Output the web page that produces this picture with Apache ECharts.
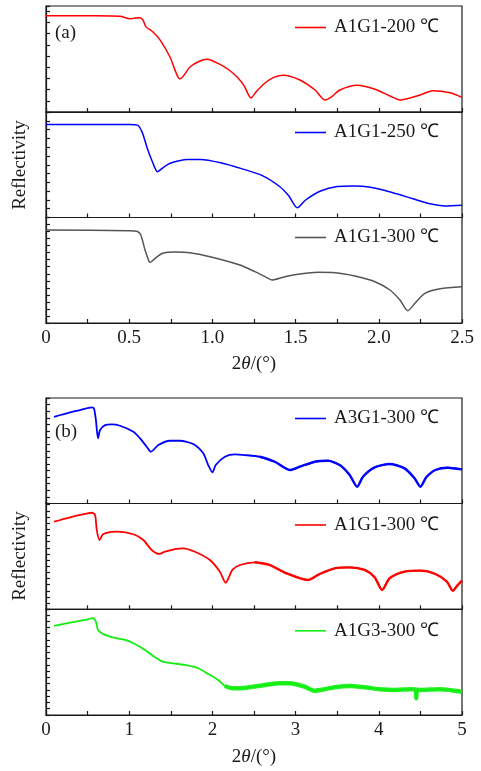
<!DOCTYPE html>
<html>
<head>
<meta charset="utf-8">
<script src="https://cdn.jsdelivr.net/npm/echarts@6/dist/echarts.min.js"></script>
<style>
html, body { margin: 0; padding: 0; background: #ffffff; }
#chart { width: 481px; height: 771px; }
</style>
</head>
<body>
<div id="chart"></div>
<script>
// X-ray reflectivity curves, 2θ in degrees vs. reflectivity (offset log units per strip)

// Panel (a): A1G1 annealed at 200 / 250 / 300 ℃, 2θ range 0–2.5°
const a1g1_200 = [
  [0, 8.6], [0.3, 8.6], [0.445, 8.55], [0.505, 8.32], [0.535, 8.38], [0.565, 8.42],
  [0.583, 8.21], [0.60, 7.62], [0.643, 7.14], [0.685, 6.43], [0.745, 4.91], [0.775, 3.75],
  [0.793, 3.13], [0.805, 2.95], [0.83, 3.30], [0.865, 4.02], [0.925, 4.55], [0.968, 4.71],
  [1.046, 4.25], [1.1, 3.75], [1.15, 3.1], [1.19, 2.35], [1.232, 1.25], [1.262, 1.79],
  [1.316, 2.59], [1.376, 3.13], [1.424, 3.28], [1.526, 2.86], [1.617, 1.96], [1.677, 1.07],
  [1.707, 1.25], [1.767, 1.96], [1.869, 2.38], [1.977, 2.03], [2.067, 1.43], [2.127, 1.07],
  [2.188, 1.25], [2.248, 1.52], [2.326, 1.90], [2.428, 1.72], [2.5, 1.31]
];
const a1g1_250 = [
  [0, 10.59], [0.5, 10.57], [0.55, 10.51], [0.58, 9.6], [0.61, 7.78], [0.64, 6.31],
  [0.67, 5.2], [0.7, 5.63], [0.75, 6.19], [0.85, 6.61], [0.93, 6.61], [1.05, 6.23],
  [1.17, 5.59], [1.3, 4.77], [1.4, 3.58], [1.46, 2.44], [1.51, 1.11], [1.56, 1.99],
  [1.65, 3.01], [1.75, 3.52], [1.85, 3.58], [1.95, 3.43], [2.08, 2.84], [2.2, 2.16],
  [2.3, 1.59], [2.4, 1.31], [2.5, 1.39]
];
const a1g1_300 = [
  [0, 13.23], [0.5, 13.13], [0.55, 13.02], [0.57, 12.52], [0.595, 10.38], [0.62, 8.72],
  [0.626, 8.63], [0.656, 9.2], [0.70, 9.91], [0.775, 10.1], [0.865, 10.0], [0.986, 9.43],
  [1.166, 8.25], [1.256, 7.3], [1.316, 6.59], [1.358, 6.12], [1.436, 6.59], [1.526, 6.97],
  [1.635, 7.21], [1.737, 7.16], [1.857, 6.69], [1.977, 5.87], [2.067, 4.69], [2.127, 3.27],
  [2.175, 1.75], [2.217, 2.8], [2.277, 4.22], [2.368, 4.88], [2.5, 5.16]
];

// Panel (b): samples annealed at 300 ℃, 2θ range 0–5°
const a3g1_300 = [
  [0.096, 13.15], [0.29, 13.82], [0.41, 14.17], [0.553, 14.58], [0.577, 14.42], [0.6, 12.65],
  [0.625, 9.88], [0.65, 11.14], [0.71, 11.89], [0.79, 12.0], [0.89, 11.79], [1.05, 10.88],
  [1.13, 9.88], [1.21, 8.61], [1.26, 7.85], [1.35, 8.86], [1.49, 9.52], [1.61, 9.52],
  [1.77, 9.02], [1.89, 7.61], [1.95, 5.83], [2.0, 4.73], [2.04, 5.83], [2.15, 7.09],
  [2.27, 7.45], [2.39, 7.35], [2.57, 7.09], [2.75, 6.33], [2.93, 5.08], [3.05, 5.58],
  [3.23, 6.33], [3.39, 6.48], [3.53, 5.83], [3.65, 4.32], [3.74, 2.55], [3.81, 4.06],
  [3.95, 5.48], [4.13, 5.98], [4.31, 5.33], [4.43, 3.82], [4.5, 2.55], [4.57, 3.97],
  [4.68, 5.08], [4.83, 5.42], [5.0, 5.18]
];
const a1g1_300b = [
  [0.096, 14.24], [0.29, 14.96], [0.47, 15.5], [0.553, 15.7], [0.59, 15.34], [0.61, 12.9],
  [0.643, 11.26], [0.685, 12.2], [0.77, 12.56], [0.865, 12.62], [1.05, 12.2], [1.17, 11.26],
  [1.27, 9.64], [1.36, 9.0], [1.43, 9.36], [1.55, 9.8], [1.65, 9.92], [1.79, 9.36],
  [1.97, 8.02], [2.09, 6.12], [2.16, 4.32], [2.24, 6.4], [2.33, 7.2], [2.51, 7.64],
  [2.69, 7.2], [2.87, 5.96], [3.15, 4.76], [3.29, 5.74], [3.47, 6.66], [3.65, 6.82],
  [3.83, 6.4], [3.95, 5.2], [4.04, 3.14], [4.13, 5.04], [4.31, 6.12], [4.5, 6.28],
  [4.68, 5.74], [4.82, 4.48], [4.89, 3.02], [4.95, 3.96], [5.0, 4.66]
];
const a1g3_300 = [
  [0.096, 14.24], [0.29, 14.76], [0.47, 15.2], [0.565, 15.48], [0.6, 14.92], [0.625, 13.6],
  [0.67, 13.08], [0.745, 12.64], [0.84, 12.28], [0.95, 12.0], [1.07, 11.36], [1.19, 10.4],
  [1.31, 9.24], [1.41, 8.48], [1.51, 8.28], [1.67, 8.0], [1.83, 7.48], [1.95, 6.56],
  [2.07, 5.6], [2.15, 4.64], [2.24, 4.28], [2.33, 4.28], [2.45, 4.44], [2.63, 4.8],
  [2.81, 5.08], [2.93, 5.08], [3.11, 4.52], [3.23, 3.88], [3.35, 4.12], [3.47, 4.44],
  [3.65, 4.64], [3.83, 4.44], [4.01, 4.12], [4.19, 4.0], [4.38, 4.12], [4.44, 4.1],
  [4.45, 2.68], [4.46, 4.05], [4.5, 4.0], [4.74, 4.12], [5.0, 3.72]
];

// Tick labels of the two angle axes
const ticksA = ['0', '0.5', '1.0', '1.5', '2.0', '2.5'];
const ticksB = ['0', '1', '2', '3', '4', '5'];

const SERIF = '"Liberation Serif", "Times New Roman", serif';
const INK = '#1a1a1a';

// stacked strips of the two panels
const strips = [
  { top: 6,     height: 106,   yMax: 9.46, xMax: 2.5, step: 0.5, labels: null },
  { top: 112,   height: 105.5, yMax: 12,   xMax: 2.5, step: 0.5, labels: null },
  { top: 217.5, height: 105.5, yMax: 15,   xMax: 2.5, step: 0.5, labels: ticksA },
  { top: 398,   height: 105.5, yMax: 16,   xMax: 5,   step: 1,   labels: null },
  { top: 503.5, height: 105.8, yMax: 17.2, xMax: 5,   step: 1,   labels: null },
  { top: 609.3, height: 105.7, yMax: 16.9, xMax: 5,   step: 1,   labels: ticksB }
];

const curves = [
  { key: 'A1G1-200 ℃#a', data: a1g1_200, color: '#ff0000', width: 1.5 },
  { key: 'A1G1-250 ℃#a', data: a1g1_250, color: '#0000ff', width: 1.5 },
  { key: 'A1G1-300 ℃#a', data: a1g1_300, color: '#555555', width: 1.5 },
  { key: 'A3G1-300 ℃#b', data: a3g1_300, color: '#0000ff', width: 1.8, noisyFrom: 2.4, noisyWidth: 2.4 },
  { key: 'A1G1-300 ℃#b', data: a1g1_300b, color: '#ff0000', width: 1.8, noisyFrom: 2.4, noisyWidth: 2.4 },
  { key: 'A1G3-300 ℃#b', data: a1g3_300, color: '#11ee11', width: 1.8, noisyFrom: 2.15, noisyWidth: 4.5 }
];
const legendCenters = [24, 129, 234, 415, 521.5, 627.3];

const grids = [], xAxes = [], yAxes = [], series = [], legends = [];
strips.forEach((s, i) => {
  grids.push({
    left: 46, width: 416, top: s.top, height: s.height,
    show: true, borderColor: INK, borderWidth: 1.2, backgroundColor: 'transparent'
  });
  xAxes.push({
    type: 'value', gridIndex: i, min: 0, max: s.xMax, interval: s.step,
    axisLine: { show: true, onZero: false, lineStyle: { color: INK, width: 1.2 } },
    axisTick: { show: true, inside: true, length: 4, lineStyle: { color: INK, width: 1.2 } },
    minorTick: { show: true, splitNumber: 2, length: 4, lineStyle: { color: INK, width: 1.2 } },
    splitLine: { show: false }, minorSplitLine: { show: false },
    axisLabel: {
      show: !!s.labels, margin: 6, fontFamily: SERIF, fontSize: 19, color: INK,
      showMinLabel: true, showMaxLabel: true,
      formatter: v => s.labels ? s.labels[Math.round(v / s.step)] : ''
    }
  });
  yAxes.push({
    type: 'value', gridIndex: i, min: 0, max: s.yMax, interval: 1,
    axisLine: { show: true, lineStyle: { color: INK, width: 1.2 } },
    axisTick: { show: true, inside: true, length: 4, lineStyle: { color: INK, width: 1.2 } },
    splitLine: { show: false },
    axisLabel: { show: false }
  });
});

curves.forEach((c, i) => {
  series.push({
    type: 'line', name: c.key, xAxisIndex: i, yAxisIndex: i, data: c.data,
    showSymbol: false, symbol: 'none', smooth: 0.25,
    lineStyle: { color: c.color, width: c.width },
    itemStyle: { color: c.color }, silent: true, z: 3
  });
  if (c.noisyFrom !== undefined) {
    // the scattered high-angle part is drawn as a thicker band
    series.push({
      type: 'line', name: c.key + '-hi', xAxisIndex: i, yAxisIndex: i,
      data: c.data.filter(p => p[0] >= c.noisyFrom),
      showSymbol: false, symbol: 'none', smooth: 0.25,
      lineStyle: { color: c.color, width: c.noisyWidth, opacity: 0.9 },
      itemStyle: { color: c.color }, silent: true, z: 2
    });
  }
  legends.push({
    data: [c.key], left: 295, top: legendCenters[i] - 6, padding: 0, orient: 'horizontal',
    icon: 'rect', itemWidth: 31, itemHeight: 1.6, itemGap: 0, selectedMode: false,
    formatter: n => n.split('#')[0],
    textStyle: { fontFamily: SERIF, fontSize: 19, color: INK, padding: [0, 0, 0, 3] }
  });
});

const textStyle = { fontFamily: SERIF, fontSize: 19, fill: INK, align: 'center', verticalAlign: 'middle' };
const graphics = [
  { type: 'text', x: 55, y: 33, style: Object.assign({}, textStyle, { text: '(a)', align: 'left' }) },
  { type: 'text', x: 55, y: 432, style: Object.assign({}, textStyle, { text: '(b)', align: 'left' }) },
  { type: 'text', x: 20.5, y: 165, rotation: Math.PI / 2, style: Object.assign({}, textStyle, { text: 'Reflectivity' }) },
  { type: 'text', x: 20.5, y: 556, rotation: Math.PI / 2, style: Object.assign({}, textStyle, { text: 'Reflectivity' }) }
];
[364, 757].forEach(y => {
  graphics.push({
    type: 'text', x: 254, y: y,
    style: Object.assign({}, textStyle, {
      text: '2{i|θ}/(°)',
      rich: { i: { fontStyle: 'italic', fontFamily: SERIF, fontSize: 19, fill: INK } }
    })
  });
});

const chart = echarts.init(document.getElementById('chart'), null, { renderer: 'canvas' });
chart.setOption({
  animation: false,
  backgroundColor: '#ffffff',
  grid: grids,
  xAxis: xAxes,
  yAxis: yAxes,
  legend: legends,
  series: series,
  graphic: graphics
});
</script>
</body>
</html>
